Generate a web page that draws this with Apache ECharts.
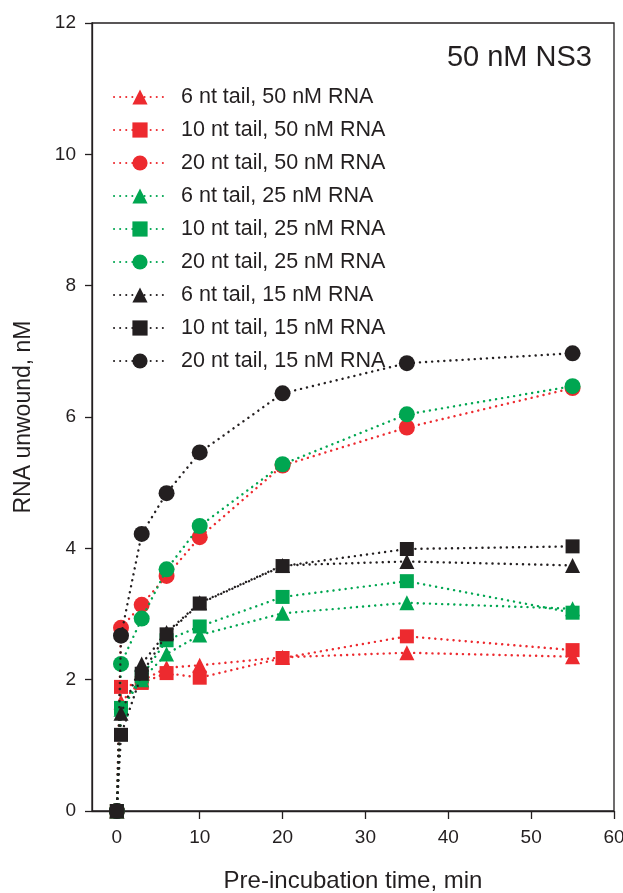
<!DOCTYPE html>
<html>
<head>
<meta charset="utf-8">
<script src="https://cdn.jsdelivr.net/npm/echarts@6/dist/echarts.min.js"></script>
<style>html,body{margin:0;padding:0;background:#fff;}#c{width:623px;height:893px;}</style>
</head>
<body>
<div id="c"></div>
<script>
var times = [0, 0.5, 3, 6, 10, 20, 35, 55];
var xTicks = [0, 10, 20, 30, 40, 50, 60];
var seriesNames = [
  '6 nt tail, 50 nM RNA', '10 nt tail, 50 nM RNA', '20 nt tail, 50 nM RNA',
  '6 nt tail, 25 nM RNA', '10 nt tail, 25 nM RNA', '20 nt tail, 25 nM RNA',
  '6 nt tail, 15 nM RNA', '10 nt tail, 15 nM RNA', '20 nt tail, 15 nM RNA'
];
var tri50 = [0, 1.66, 1.98, 2.18, 2.22, 2.34, 2.41, 2.35];
var sq50  = [0, 1.89, 1.95, 2.10, 2.03, 2.33, 2.66, 2.45];
var cir50 = [0, 2.79, 3.14, 3.58, 4.17, 5.26, 5.84, 6.44];
var tri25 = [0, 1.55, 2.00, 2.39, 2.68, 3.01, 3.17, 3.08];
var sq25  = [0, 1.57, 2.05, 2.60, 2.81, 3.26, 3.50, 3.02];
var cir25 = [0, 2.24, 2.93, 3.68, 4.34, 5.28, 6.04, 6.47];
var tri15 = [0, 1.49, 2.24, 2.72, 3.17, 3.74, 3.80, 3.74];
var sq15  = [0, 1.16, 2.09, 2.69, 3.16, 3.73, 3.99, 4.03];
var cir15 = [0, 2.67, 4.22, 4.84, 5.46, 6.36, 6.82, 6.97];

var allData = [tri50, sq50, cir50, tri25, sq25, cir25, tri15, sq15, cir15];
var colors = ['#ed2a2f', '#ed2a2f', '#ed2a2f', '#00a651', '#00a651', '#00a651', '#231f20', '#231f20', '#231f20'];
var symbols = ['triangle', 'rect', 'circle', 'triangle', 'rect', 'circle', 'triangle', 'rect', 'circle'];
var sizes = [15, 14, 16, 15, 14, 16, 15, 14, 16];

var series = allData.map(function (d, i) {
  return {
    name: seriesNames[i],
    type: 'line',
    data: times.map(function (t, j) { return [t, d[j]]; }),
    symbol: symbols[i],
    symbolSize: sizes[i],
    showAllSymbol: true,
    lineStyle: { color: colors[i], width: 2.4, type: [0.1, 6], cap: 'round' },
    itemStyle: { color: colors[i] },
    emphasis: { disabled: true },
    animation: false,
    z: 2 + i
  };
});

var chart = echarts.init(document.getElementById('c'), null, { renderer: 'canvas' });
chart.setOption({
  backgroundColor: '#fff',
  animation: false,
  textStyle: { fontFamily: 'Liberation Sans, Arial, sans-serif' },
  title: {
    text: '50 nM NS3', right: 26, top: 38,
    textStyle: { fontSize: 29, fontWeight: 'normal', color: '#231f20', fontFamily: 'Liberation Sans' }
  },
  legend: {
    orient: 'vertical', left: 108, top: 81,
    itemWidth: 52, itemHeight: 19, itemGap: 11,
    textStyle: { fontSize: 21.5, color: '#231f20', fontFamily: 'Liberation Sans', padding: [0, 0, 0, 10] },
    data: seriesNames,
    selectedMode: false
  },
  grid: {
    left: 92, right: 9, top: 23, bottom: 82,
    outerBoundsMode: 'none',
    show: true, borderColor: '#231f20', borderWidth: 1.3, backgroundColor: 'transparent'
  },
  xAxis: {
    type: 'value', min: -3, max: 60,
    name: 'Pre-incubation time, min', nameLocation: 'middle', nameGap: 58,
    nameTextStyle: { fontSize: 24, color: '#231f20', fontFamily: 'Liberation Sans' },
    axisLine: { show: true, onZero: false, lineStyle: { color: '#231f20', width: 1.3 } },
    axisTick: { show: true, customValues: xTicks, length: 8, lineStyle: { color: '#231f20', width: 1.3 } },
    axisLabel: { customValues: xTicks, fontSize: 19, color: '#231f20', margin: 17, fontFamily: 'Liberation Sans' },
    splitLine: { show: false }
  },
  yAxis: {
    type: 'value', min: 0, max: 12, interval: 2,
    name: 'RNA unwound, nM', nameLocation: 'middle', nameGap: 57,
    nameTextStyle: { fontSize: 23, color: '#231f20', fontFamily: 'Liberation Sans' },
    axisLine: { show: true, onZero: false, lineStyle: { color: '#231f20', width: 1.3 } },
    axisTick: { show: true, length: 7, lineStyle: { color: '#231f20', width: 1.3 } },
    axisLabel: { fontSize: 19, color: '#231f20', margin: 16, fontFamily: 'Liberation Sans' },
    splitLine: { show: false }
  },
  series: series
});
</script>
</body>
</html>
